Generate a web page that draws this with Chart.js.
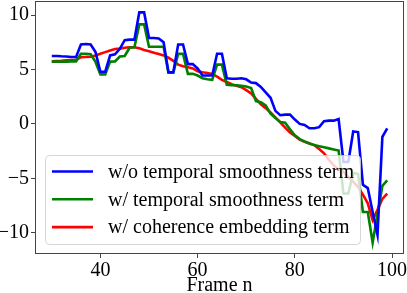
<!DOCTYPE html>
<html>
<head>
<meta charset="utf-8">
<script src="https://cdn.jsdelivr.net/npm/chart.js@4"></script>
<style>
  body { margin: 0; background: #fff; }
  #wrap { width: 407px; height: 293px; }
</style>
</head>
<body>
<div id="wrap"><canvas id="chart__frames" width="407" height="293"></canvas></div>
<script>
const frames = [30, 31, 32, 33, 34, 35, 36, 37, 38, 39,
    40, 41, 42, 43, 44, 45, 46, 47, 48, 49,
    50, 51, 52, 53, 54, 55, 56, 57, 58, 59,
    60, 61, 62, 63, 64, 65, 66, 67, 68, 69,
    70, 71, 72, 73, 74, 75, 76, 77, 78, 79,
    80, 81, 82, 83, 84, 85, 86, 87, 88, 89,
    90, 91, 92, 93, 94, 95, 96, 97, 98, 99];

const noSmooth = [6.25, 6.25, 6.22, 6.2, 6.15, 6.15, 7.3, 7.35, 7.3, 6.6,
    4.8, 4.8, 6.3, 6.4, 6.9, 7.7, 7.75, 7.75, 10.25, 10.25,
    7.9, 7.9, 7.85, 7.5, 4.75, 4.75, 7.3, 7.3, 5.5, 5.5,
    5.1, 4.45, 4.45, 4.45, 6.45, 6.45, 4.2, 4.15, 4.15, 4.2,
    4.1, 3.8, 3.75, 3.4, 2.9, 2.4, 1.2, 0.8, 0.85, 0.85,
    0.4, 0.0, -0.1, -0.4, -0.4, -0.3, 0.25, 0.3, 0.3, 0.45,
    -3.5, -3.5, -0.7, -0.75, -5.6, -5.9, -8.1, -10.2, -1.2, -0.4];

const withSmooth = [5.73, 5.73, 5.73, 5.73, 5.75, 5.75, 6.44, 6.44, 6.4, 5.7,
    4.55, 4.55, 5.73, 5.75, 6.2, 6.25, 7.0, 7.05, 9.15, 9.15,
    7.1, 7.1, 7.1, 7.1, 4.7, 4.7, 6.44, 6.44, 4.6, 4.6,
    4.45, 4.2, 4.1, 4.05, 5.45, 5.45, 3.6, 3.55, 3.55, 3.5,
    3.44, 3.3, 2.1, 2.0, 1.7, 0.95, 0.55, 0.17, 0.1, -0.5,
    -1.05, -1.4, -1.6, -1.8, -1.95, -2.05, -2.15, -2.25, -2.35, -2.45,
    -6.4, -6.4, -4.5, -4.6, -8.1, -8.1, -10.9, -8.3, -5.7, -5.2];

const withCoherence = [5.75, 5.78, 5.8, 5.85, 5.88, 5.9, 6.13, 6.15, 6.18, 6.3,
    6.45, 6.6, 6.75, 6.88, 6.92, 7.0, 7.05, 7.05, 6.95, 6.8,
    6.68, 6.55, 6.42, 6.3, 6.1, 5.8, 5.45, 5.3, 5.2, 5.1,
    4.85, 4.75, 4.68, 4.6, 4.35, 4.05, 3.85, 3.65, 3.5, 3.38,
    3.1, 2.8, 2.3, 1.8, 1.45, 1.05, 0.6, 0.15, -0.35, -0.8,
    -1.1, -1.45, -1.65, -1.8, -1.95, -2.3, -2.7, -3.3, -3.8, -4.2,
    -4.4, -4.9, -5.3, -5.8, -6.5, -7.3, -8.85, -7.9, -6.9, -6.4];

const xTicks = [40, 60, 80, 100];
const yTicks = [-10, -5, 0, 5, 10];
const seriesNames = ['w/o temporal smoothness term', 'w/ temporal smoothness term', 'w/ coherence embedding term'];

const serif = '"Liberation Serif", "DejaVu Serif", serif';

function toPoints(ys) {
    return frames.map((f, i) => ({ x: f, y: ys[i] }));
}

function lineSet(label, values, color) {
    return {
        label: label,
        data: toPoints(values),
        borderColor: color,
        backgroundColor: color,
        borderWidth: 2.6,
        pointRadius: 0,
        tension: 0,
    };
}

// matplotlib style box around the axes
const frameBox = {
    id: 'frameBox',
    afterDraw(chart) {
        const { ctx, chartArea: a } = chart;
        ctx.save();
        ctx.strokeStyle = '#444';
        ctx.lineWidth = 1;
        ctx.strokeRect(a.left + 0.5, a.top + 0.5, a.right - a.left - 1, a.bottom - a.top - 1);
        ctx.restore();
    }
};

// legend drawn inside the plot, lower left, like the original
const innerLegend = {
    id: 'innerLegend',
    afterDatasetsDraw(chart) {
        const ctx = chart.ctx;
        const x0 = 45, y0 = 155, w = 315, h = 89, r = 4;
        ctx.save();
        ctx.beginPath();
        ctx.roundRect(x0 + 0.5, y0 + 0.5, w, h, r);
        ctx.fillStyle = 'rgba(255,255,255,0.8)';
        ctx.fill();
        ctx.strokeStyle = 'rgba(204,204,204,0.8)';
        ctx.lineWidth = 1;
        ctx.stroke();
        ctx.font = '20px ' + serif;
        ctx.textBaseline = 'middle';
        ctx.fillStyle = '#000';
        chart.data.datasets.forEach((ds, i) => {
            const y = 171.5 + i * 27.8;
            ctx.beginPath();
            ctx.moveTo(52, y);
            ctx.lineTo(93, y);
            ctx.strokeStyle = ds.borderColor;
            ctx.lineWidth = 2.6;
            ctx.stroke();
            ctx.fillText(ds.label, 108, y + 1);
        });
        ctx.restore();
    }
};

const config = {
    type: 'line',
    data: {
        datasets: [
            lineSet(seriesNames[0], noSmooth, '#0000ff'),
            lineSet(seriesNames[1], withSmooth, '#008000'),
            lineSet(seriesNames[2], withCoherence, '#ff0000'),
        ]
    },
    options: {
        responsive: false,
        animation: false,
        layout: { padding: { top: 1, right: 3, left: 0, bottom: 0 } },
        plugins: { legend: { display: false }, tooltip: { enabled: false } },
        scales: {
            x: {
                type: 'linear',
                min: 26.55,
                max: 102.45,
                afterBuildTicks(scale) { scale.ticks = xTicks.map(v => ({ value: v })); },
                afterFit(scale) {
                    scale.height = 39;
                    scale.paddingLeft = 0;
                    scale.paddingRight = 0;
                },
                grid: { drawOnChartArea: false, drawTicks: true, tickLength: 4, color: '#444' },
                border: { display: false },
                ticks: { color: '#000', font: { family: serif, size: 20 }, padding: 1, maxRotation: 0 },
                title: { display: true, text: 'Frame n', color: '#000', font: { family: serif, size: 20 }, padding: { top: 0, bottom: -5 } }
            },
            y: {
                type: 'linear',
                min: -11.96,
                max: 11.3,
                afterBuildTicks(scale) { scale.ticks = yTicks.map(v => ({ value: v })); },
                afterFit(scale) {
                    scale.width = 35;
                    scale.paddingTop = 0;
                    scale.paddingBottom = 0;
                },
                grid: { drawOnChartArea: false, drawTicks: true, tickLength: 4, color: '#444' },
                border: { display: false },
                ticks: {
                    color: '#000',
                    font: { family: serif, size: 20 },
                    padding: 2,
                    callback: v => String(v).replace('-', '\u2212')
                }
            }
        }
    },
    plugins: [frameBox, innerLegend]
};

const canvas = document.getElementById('chart__frames');
const chart = new Chart(canvas, config);
</script>
</body>
</html>
